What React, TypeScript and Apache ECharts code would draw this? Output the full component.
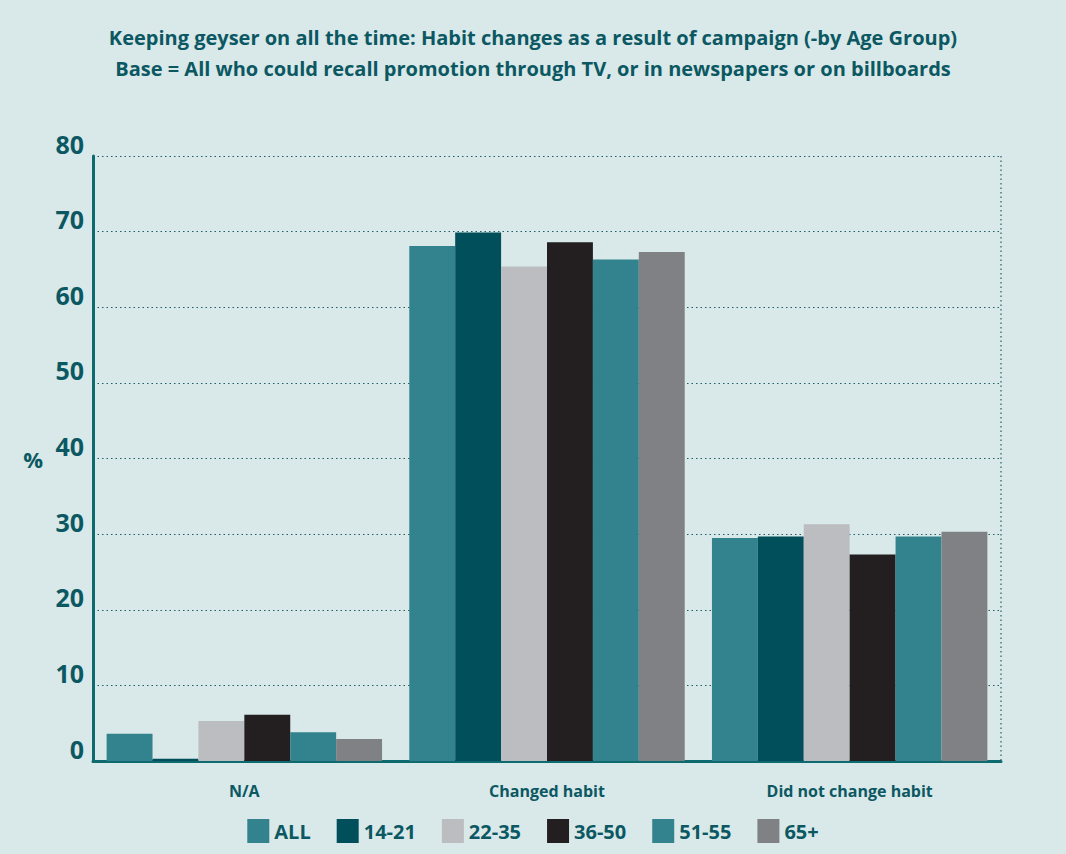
import React, { useEffect, useRef } from "react";
import * as echarts from "echarts";

const categories = ["N/A", "Changed habit", "Did not change habit"];
const groups = ["ALL", "14-21", "22-35", "36-50", "51-55", "65+"];
const colors = ["#33838f", "#004f5b", "#bcbdc1", "#231f20", "#33838f", "#808184"];
const valuesAll = [3.6, 68.1, 29.5];
const values1421 = [0.3, 69.9, 29.7];
const values2235 = [5.3, 65.4, 31.3];
const values3650 = [6.1, 68.6, 27.3];
const values5155 = [3.8, 66.3, 29.7];
const values65 = [2.9, 67.3, 30.3];
const seriesValues = [valuesAll, values1421, values2235, values3650, values5155, values65];
const yTicks = [0, 10, 20, 30, 40, 50, 60, 70, 80];

const titleText =
  "Keeping geyser on all the time: Habit changes as a result of campaign (-by Age Group)\nBase = All who could recall promotion through TV, or in newspapers or on billboards";

const TEAL = "#0b5863";
const FONT = "'Open Sans', 'Noto Sans', sans-serif";

export default function App() {
  const ref = useRef<HTMLDivElement>(null);
  useEffect(() => {
    if (!ref.current) return;
    const chart = echarts.init(ref.current, undefined, { renderer: "svg" });
    chart.setOption({
      animation: false,
      backgroundColor: "#d9e8e8",
      textStyle: { fontFamily: FONT },
      title: {
        text: titleText,
        left: "center",
        top: 17,
        textStyle: {
          color: TEAL,
          fontSize: 20,
          fontWeight: "bold",
          lineHeight: 31,
          fontFamily: FONT,
        },
      },
      legend: {
        data: groups,
        bottom: 6,
        left: "center",
        itemWidth: 22,
        itemHeight: 24,
        itemGap: 26,
        icon: "rect",
        textStyle: { color: TEAL, fontSize: 20, fontWeight: "bold", fontFamily: FONT },
      },
      grid: { left: 93, right: 65, top: 156, bottom: 93, containLabel: false },
      xAxis: {
        type: "category",
        data: categories,
        axisLine: { show: true, lineStyle: { color: "#0d6b70", width: 3 } },
        axisTick: { show: false },
        axisLabel: {
          color: TEAL,
          fontSize: 16,
          fontWeight: "bold",
          margin: 22,
          fontFamily: FONT,
        },
      },
      yAxis: {
        type: "value",
        min: yTicks[0],
        max: yTicks[yTicks.length - 1],
        interval: 10,
        name: "%",
        nameLocation: "middle",
        nameRotate: 0,
        nameGap: 50,
        nameTextStyle: { color: TEAL, fontSize: 22, fontWeight: "bold", fontFamily: FONT, padding: [50, 0, 0, 0] },
        axisLine: { show: true, lineStyle: { color: "#0d6b70", width: 3 } },
        axisTick: { show: false },
        axisLabel: {
          color: TEAL,
          fontSize: 25,
          fontWeight: "bold",
          margin: 9,
          verticalAlign: "bottom",
          fontFamily: FONT,
        },
        splitLine: {
          show: true,
          lineStyle: { color: "#1f5f66", type: [1.5, 3], width: 1.2 },
        },
      },
      series: groups.map((g, i) => ({
        name: g,
        type: "bar",
        data: seriesValues[i],
        barGap: "0%",
        barCategoryGap: "9%",
        itemStyle: { color: colors[i] },
        z: 1,
      })),
    });
    // dotted right edge of the plot area
    const w = chart.getWidth();
    const h = chart.getHeight();
    chart.setOption({
      graphic: [
        {
          type: "line",
          shape: { x1: w - 65, y1: 156, x2: w - 65, y2: h - 93 },
          style: { stroke: "#1f5f66", lineWidth: 1.2, lineDash: [1.5, 3] },
          z: 0,
        },
      ],
    });
    return () => chart.dispose();
  }, []);
  return (
    <div
      ref={ref}
      style={{ position: "fixed", left: 0, top: 0, width: 1066, height: 854 }}
    />
  );
}
